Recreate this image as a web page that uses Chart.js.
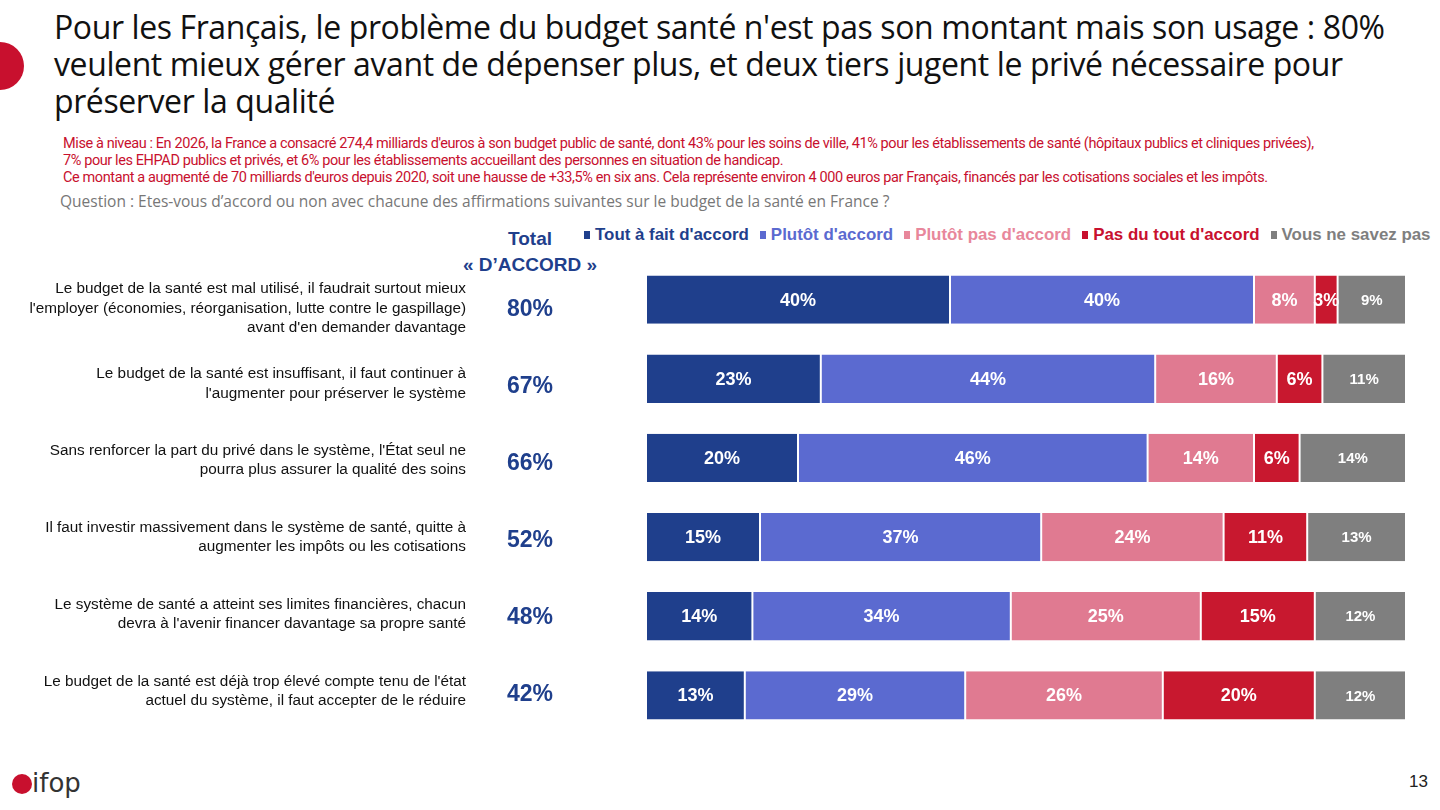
<!DOCTYPE html>
<html><head><meta charset="utf-8">
<script src="https://cdn.jsdelivr.net/npm/chart.js@4"></script>
<style>
body{margin:0;width:1440px;height:810px;background:#fff;position:relative;overflow:hidden;font-family:"Liberation Sans",Arial,sans-serif}
.t{position:absolute;left:54px;top:8px;width:1380px;font-family:"Open Sans",sans-serif;font-size:32px;line-height:37px;color:#111;letter-spacing:-0.4px}
.s{position:absolute;left:63px;top:135px;font-family:Roboto,sans-serif;font-size:14.5px;line-height:17px;color:#c8102e;letter-spacing:-0.4px}
.q{position:absolute;left:60px;top:190px;font-family:"Open Sans",sans-serif;font-size:15.5px;color:#777}
.dot{position:absolute;left:-24px;top:42px;width:48px;height:48px;border-radius:50%;background:#c8102e}
.tot{position:absolute;left:450px;top:226px;width:160px;text-align:center;font-weight:bold;color:#1f3f8c;font-size:19px;line-height:26px}
.lg{position:absolute;left:584px;top:225px;font-weight:bold;font-size:16.9px;white-space:nowrap}
.lg span{margin-right:11px}
.lg i{display:inline-block;width:6px;height:8px;margin-right:5px;vertical-align:1px}
.pg{position:absolute;right:12px;bottom:18px;font-size:17px;color:#222}
.logo{position:absolute;left:12px;bottom:12px;font-size:26px;color:#333;font-family:"DejaVu Sans"}
.logo b{display:inline-block;width:20px;height:20px;border-radius:50%;background:#c8102e;vertical-align:-2px}
#wrap{position:absolute;left:0;top:260px;width:1440px;height:475px}
</style></head><body>
<div class="dot"></div>
<div class="t">Pour les Français, le problème du budget santé n'est pas son montant mais son usage : 80% veulent mieux gérer avant de dépenser plus, et deux tiers jugent le privé nécessaire pour préserver la qualité</div>
<div class="s">Mise à niveau : En 2026, la France a consacré 274,4 milliards d'euros à son budget public de santé, dont 43% pour les soins de ville, 41% pour les établissements de santé (hôpitaux publics et cliniques privées),<br>7% pour les EHPAD publics et privés, et 6% pour les établissements accueillant des personnes en situation de handicap.<br>Ce montant a augmenté de 70 milliards d'euros depuis 2020, soit une hausse de +33,5% en six ans. Cela représente environ 4 000 euros par Français, financés par les cotisations sociales et les impôts.</div>
<div class="q">Question : Etes-vous d’accord ou non avec chacune des affirmations suivantes sur le budget de la santé en France ?</div>
<div class="tot">Total<br>« D’ACCORD »</div>
<div class="lg" id="lg"></div>
<div id="wrap"><canvas id="c"></canvas></div>
<div class="logo"><b></b>ifop</div>
<div class="pg">13</div>
<script>
const categories=[
["Le budget de la santé est mal utilisé, il faudrait surtout mieux","l'employer (économies, réorganisation, lutte contre le gaspillage)","avant d'en demander davantage"],
["Le budget de la santé est insuffisant, il faut continuer à","l'augmenter pour préserver le système"],
["Sans renforcer la part du privé dans le système, l'État seul ne","pourra plus assurer la qualité des soins"],
["Il faut investir massivement dans le système de santé, quitte à","augmenter les impôts ou les cotisations"],
["Le système de santé a atteint ses limites financières, chacun","devra à l'avenir financer davantage sa propre santé"],
["Le budget de la santé est déjà trop élevé compte tenu de l'état","actuel du système, il faut accepter de le réduire"]];
const totals=[80,67,66,52,48,42];
const seriesNames=["Tout à fait d'accord","Plutôt d'accord","Plutôt pas d'accord","Pas du tout d'accord","Vous ne savez pas"];
const toutAFait=[40,23,20,15,14,13];
const plutot=[40,44,46,37,34,29];
const plutotPas=[8,16,14,24,25,26];
const pasDuTout=[3,6,6,11,15,20];
const nsp=[9,11,14,13,12,12];
const colors=["#1f3f8c","#5b6ad0","#e07a91","#c8182f","#7f7f7f"];
const legColors=["#1f3f8c","#5b6ad0","#e8879b","#c8102e","#7f7f7f"];
document.getElementById('lg').innerHTML=seriesNames.map((n,i)=>`<span style="color:${legColors[i]}"><i style="background:${legColors[i]}"></i>${n}</span>`).join('');
const data=[toutAFait,plutot,plutotPas,pasDuTout,nsp];
const plug={id:'lbl',afterDatasetsDraw(ch){
 const ctx=ch.ctx,y=ch.scales.y;
 ctx.save();
 ch.data.datasets.forEach((ds,di)=>{ch.getDatasetMeta(di).data.forEach((b,i)=>{
  const cx=(b.x+b.base)/2;
  ctx.fillStyle='#fff';ctx.textAlign='center';ctx.textBaseline='middle';
  ctx.font=(di==4?'bold 15px':'bold 18px')+' "Liberation Sans",Arial';
  ctx.fillText(ds.data[i]+'%',cx,b.y+1);
 });});
 categories.forEach((c,i)=>{
  const yc=y.getPixelForValue(i)+9-i*2.2;
  ctx.fillStyle='#111';ctx.font='15.3px "Liberation Sans",Arial';ctx.textAlign='right';ctx.textBaseline='middle';
  const n=c.length;c.forEach((l,k)=>ctx.fillText(l,466,yc+(k-(n-1)/2)*19.5-(n==3?0:2)));
  ctx.fillStyle='#1f3f8c';ctx.font='bold 23px "Liberation Sans",Arial';ctx.textAlign='center';
  ctx.fillText(totals[i]+'%',530,yc+1);
 });
 ctx.restore();}};
new Chart(document.getElementById('c'),{type:'bar',
 data:{labels:categories.map(c=>c.join(' ')),datasets:data.map((d,i)=>({label:seriesNames[i],data:d,backgroundColor:colors[i],borderColor:'#fff',borderWidth:{left:1,right:1},borderSkipped:false,barPercentage:0.61,categoryPercentage:1}))},
 options:{indexAxis:'y',responsive:true,maintainAspectRatio:false,animation:false,
  layout:{padding:{left:646,right:34,top:0,bottom:0}},
  plugins:{legend:{display:false},tooltip:{enabled:false}},
  scales:{x:{stacked:true,min:0,max:100,display:false},y:{stacked:true,display:false}}},
 plugins:[plug]});
</script></body></html>
